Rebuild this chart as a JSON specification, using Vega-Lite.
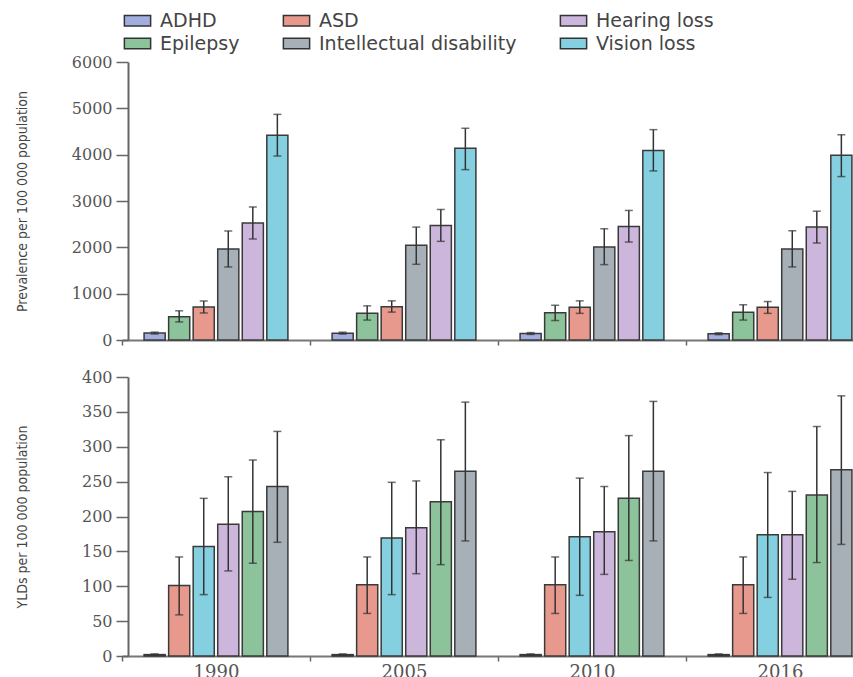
{
  "$schema": "https://vega.github.io/schema/vega-lite/v6.json",
  "padding": {"left": 15, "top": 9, "right": 0, "bottom": 0},
  "background": "white",
  "config": {"view": {"stroke": null}},
  "spacing": 21,
  "resolve": {"scale": {"xOffset": "independent"}},
  "datasets": {
    "prev": [
      {"year": "1990", "cause": "ADHD", "value": 150, "low": 130, "high": 170},
      {"year": "1990", "cause": "Epilepsy", "value": 500, "low": 390, "high": 630},
      {"year": "1990", "cause": "ASD", "value": 712, "low": 583, "high": 842},
      {"year": "1990", "cause": "Intellectual disability", "value": 1964, "low": 1576, "high": 2353},
      {"year": "1990", "cause": "Hearing loss", "value": 2525, "low": 2180, "high": 2871},
      {"year": "1990", "cause": "Vision loss", "value": 4420, "low": 3971, "high": 4870},
      {"year": "2005", "cause": "ADHD", "value": 148, "low": 128, "high": 168},
      {"year": "2005", "cause": "Epilepsy", "value": 580, "low": 430, "high": 737},
      {"year": "2005", "cause": "ASD", "value": 716, "low": 602, "high": 845},
      {"year": "2005", "cause": "Intellectual disability", "value": 2043, "low": 1634, "high": 2437},
      {"year": "2005", "cause": "Hearing loss", "value": 2473, "low": 2129, "high": 2817},
      {"year": "2005", "cause": "Vision loss", "value": 4140, "low": 3677, "high": 4570},
      {"year": "2010", "cause": "ADHD", "value": 140, "low": 120, "high": 160},
      {"year": "2010", "cause": "Epilepsy", "value": 590, "low": 420, "high": 750},
      {"year": "2010", "cause": "ASD", "value": 705, "low": 575, "high": 845},
      {"year": "2010", "cause": "Intellectual disability", "value": 2006, "low": 1627, "high": 2401},
      {"year": "2010", "cause": "Hearing loss", "value": 2452, "low": 2114, "high": 2796},
      {"year": "2010", "cause": "Vision loss", "value": 4090, "low": 3649, "high": 4540},
      {"year": "2016", "cause": "ADHD", "value": 135, "low": 115, "high": 155},
      {"year": "2016", "cause": "Epilepsy", "value": 600, "low": 430, "high": 760},
      {"year": "2016", "cause": "ASD", "value": 705, "low": 575, "high": 830},
      {"year": "2016", "cause": "Intellectual disability", "value": 1963, "low": 1577, "high": 2358},
      {"year": "2016", "cause": "Hearing loss", "value": 2440, "low": 2093, "high": 2780},
      {"year": "2016", "cause": "Vision loss", "value": 3990, "low": 3527, "high": 4430}
    ],
    "yld": [
      {"year": "1990", "cause": "ADHD", "value": 2, "low": 1, "high": 3},
      {"year": "1990", "cause": "ASD", "value": 101, "low": 59, "high": 142},
      {"year": "1990", "cause": "Vision loss", "value": 157, "low": 88, "high": 226},
      {"year": "1990", "cause": "Hearing loss", "value": 189, "low": 122, "high": 257},
      {"year": "1990", "cause": "Epilepsy", "value": 207, "low": 133, "high": 281},
      {"year": "1990", "cause": "Intellectual disability", "value": 243, "low": 163, "high": 322},
      {"year": "2005", "cause": "ADHD", "value": 2, "low": 1, "high": 3},
      {"year": "2005", "cause": "ASD", "value": 102, "low": 61, "high": 142},
      {"year": "2005", "cause": "Vision loss", "value": 169, "low": 88, "high": 249},
      {"year": "2005", "cause": "Hearing loss", "value": 184, "low": 118, "high": 251},
      {"year": "2005", "cause": "Epilepsy", "value": 221, "low": 131, "high": 310},
      {"year": "2005", "cause": "Intellectual disability", "value": 265, "low": 165, "high": 364},
      {"year": "2010", "cause": "ADHD", "value": 2, "low": 1, "high": 3},
      {"year": "2010", "cause": "ASD", "value": 102, "low": 61, "high": 142},
      {"year": "2010", "cause": "Vision loss", "value": 171, "low": 87, "high": 255},
      {"year": "2010", "cause": "Hearing loss", "value": 178, "low": 117, "high": 243},
      {"year": "2010", "cause": "Epilepsy", "value": 226, "low": 137, "high": 316},
      {"year": "2010", "cause": "Intellectual disability", "value": 265, "low": 165, "high": 365},
      {"year": "2016", "cause": "ADHD", "value": 2, "low": 1, "high": 3},
      {"year": "2016", "cause": "ASD", "value": 102, "low": 61, "high": 142},
      {"year": "2016", "cause": "Vision loss", "value": 174, "low": 84, "high": 263},
      {"year": "2016", "cause": "Hearing loss", "value": 174, "low": 110, "high": 236},
      {"year": "2016", "cause": "Epilepsy", "value": 231, "low": 134, "high": 329},
      {"year": "2016", "cause": "Intellectual disability", "value": 267, "low": 160, "high": 373}
    ]
  },
  "vconcat": [
    {
      "width": 746,
      "height": 278,
      "data": {"name": "prev"},
      "encoding": {
        "x": {"field": "year", "type": "nominal", "scale": {"range": [-6, 746], "paddingInner": 0, "paddingOuter": 0},
              "axis": {"title": null, "labels": false, "tickBand": "extent", "tickSize": 5, "tickColor": "#666", "tickWidth": 1.5, "domainColor": "#777", "domainWidth": 2}},
        "xOffset": {"field": "cause", "type": "nominal",
                    "scale": {"domain": ["ADHD", "Epilepsy", "ASD", "Intellectual disability", "Hearing loss", "Vision loss"], "paddingInner": 0.14, "paddingOuter": 0.9}},
        "y": {"field": "value", "type": "quantitative", "title": "Prevalence per 100 000 population",
              "scale": {"domain": [0, 6000], "nice": false},
              "axis": {"values": [0, 1000, 2000, 3000, 4000, 5000, 6000], "format": "d", "grid": false, "labelOverlap": false,
                       "labelFont": "DejaVu Serif", "labelFontSize": 16, "labelColor": "#555", "labelPadding": 4,
                       "tickSize": 12, "tickColor": "#666", "tickWidth": 1.5, "domainColor": "#666", "domainWidth": 2,
                       "titleFont": "DejaVu Sans Condensed, Liberation Sans Narrow, Liberation Sans", "titleFontSize": 14, "titleColor": "#444", "titleFontWeight": "normal", "titlePadding": 42}}
      },
      "layer": [
        {
          "mark": {"type": "bar", "stroke": "#3a3a3a", "strokeWidth": 1.5},
          "encoding": {
            "color": {"field": "cause", "type": "nominal",
                      "scale": {"domain": ["ADHD", "ASD", "Hearing loss", "Epilepsy", "Intellectual disability", "Vision loss"],
                                "range": ["#a3aee0", "#e8998d", "#cdb6dc", "#8cc39b", "#a8b0b7", "#84cfe0"]},
                      "legend": {"orient": "none", "legendX": -2, "legendY": -53, "columns": 3, "direction": "horizontal", "title": null,
                                 "symbolType": "M-1.25,-0.5H1.25V0.5H-1.25Z", "symbolSize": 441, "symbolStrokeColor": "#333", "symbolStrokeWidth": 1.5, "symbolOpacity": 1,
                                 "labelFont": "DejaVu Sans", "labelFontSize": 19, "labelColor": "#444", "labelOffset": 11, "labelLimit": 400,
                                 "columnPadding": 40, "rowPadding": 1}}
          }
        },
        {
          "mark": {"type": "rule", "color": "#333", "strokeWidth": 1.5},
          "encoding": {"y": {"field": "low", "type": "quantitative", "title": "Prevalence per 100 000 population"}, "y2": {"field": "high"}}
        },
        {
          "mark": {"type": "tick", "color": "#333", "size": 8, "thickness": 1.5},
          "encoding": {"y": {"field": "low", "type": "quantitative", "title": "Prevalence per 100 000 population"}}
        },
        {
          "mark": {"type": "tick", "color": "#333", "size": 8, "thickness": 1.5},
          "encoding": {"y": {"field": "high", "type": "quantitative", "title": "Prevalence per 100 000 population"}}
        }
      ]
    },
    {
      "width": 746,
      "height": 279,
      "data": {"name": "yld"},
      "encoding": {
        "x": {"field": "year", "type": "nominal", "scale": {"range": [-6, 746], "paddingInner": 0, "paddingOuter": 0},
              "axis": {"title": null, "labelAngle": 0, "tickBand": "extent", "tickSize": 5, "tickColor": "#666", "tickWidth": 1.5, "domainColor": "#777", "domainWidth": 2,
                       "labelFont": "DejaVu Serif", "labelFontSize": 18, "labelColor": "#555", "labelPadding": 2}},
        "xOffset": {"field": "cause", "type": "nominal",
                    "scale": {"domain": ["ADHD", "ASD", "Vision loss", "Hearing loss", "Epilepsy", "Intellectual disability"], "paddingInner": 0.14, "paddingOuter": 0.9}},
        "y": {"field": "value", "type": "quantitative", "title": "YLDs per 100 000 population",
              "scale": {"domain": [0, 400], "nice": false},
              "axis": {"values": [0, 50, 100, 150, 200, 250, 300, 350, 400], "format": "d", "grid": false, "labelOverlap": false,
                       "labelFont": "DejaVu Serif", "labelFontSize": 16, "labelColor": "#555", "labelPadding": 4,
                       "tickSize": 12, "tickColor": "#666", "tickWidth": 1.5, "domainColor": "#666", "domainWidth": 2,
                       "titleFont": "DejaVu Sans Condensed, Liberation Sans Narrow, Liberation Sans", "titleFontSize": 14, "titleColor": "#444", "titleFontWeight": "normal", "titlePadding": 52}}
      },
      "layer": [
        {
          "mark": {"type": "bar", "stroke": "#3a3a3a", "strokeWidth": 1.5},
          "encoding": {
            "color": {"field": "cause", "type": "nominal",
                      "scale": {"domain": ["ADHD", "ASD", "Hearing loss", "Epilepsy", "Intellectual disability", "Vision loss"],
                                "range": ["#a3aee0", "#e8998d", "#cdb6dc", "#8cc39b", "#a8b0b7", "#84cfe0"]},
                      "legend": {"orient": "none", "legendX": -2, "legendY": -53, "columns": 3, "direction": "horizontal", "title": null,
                                 "symbolType": "M-1.25,-0.5H1.25V0.5H-1.25Z", "symbolSize": 441, "symbolStrokeColor": "#333", "symbolStrokeWidth": 1.5, "symbolOpacity": 1,
                                 "labelFont": "DejaVu Sans", "labelFontSize": 19, "labelColor": "#444", "labelOffset": 11, "labelLimit": 400,
                                 "columnPadding": 40, "rowPadding": 1}}
          }
        },
        {
          "mark": {"type": "rule", "color": "#333", "strokeWidth": 1.5},
          "encoding": {"y": {"field": "low", "type": "quantitative", "title": "YLDs per 100 000 population"}, "y2": {"field": "high"}}
        },
        {
          "mark": {"type": "tick", "color": "#333", "size": 8, "thickness": 1.5},
          "encoding": {"y": {"field": "low", "type": "quantitative", "title": "YLDs per 100 000 population"}}
        },
        {
          "mark": {"type": "tick", "color": "#333", "size": 8, "thickness": 1.5},
          "encoding": {"y": {"field": "high", "type": "quantitative", "title": "YLDs per 100 000 population"}}
        }
      ]
    }
  ]
}
